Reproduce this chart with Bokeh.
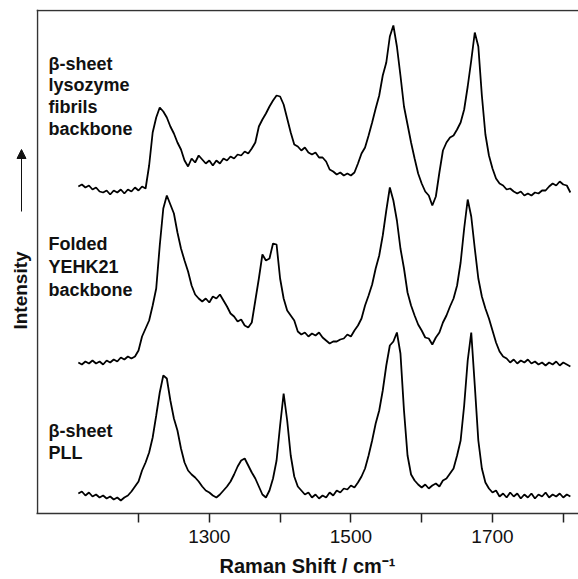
from bokeh.plotting import figure
from bokeh.layouts import row
from bokeh.models import Range1d, FixedTicker, Label, Arrow, NormalHead, ColumnDataSource, Span
from bokeh.embed import file_html
from bokeh.resources import INLINE

# Raman shift sampling (cm^-1)
wavenumber = [
    1115, 1120, 1125, 1130, 1135, 1140, 1145, 1150, 1155, 1160,
    1165, 1170, 1175, 1180, 1185, 1190, 1195, 1200, 1205, 1210,
    1215, 1220, 1225, 1230, 1235, 1240, 1245, 1250, 1255, 1260,
    1265, 1270, 1275, 1280, 1285, 1290, 1295, 1300, 1305, 1310,
    1315, 1320, 1325, 1330, 1335, 1340, 1345, 1350, 1355, 1360,
    1365, 1370, 1375, 1380, 1385, 1390, 1395, 1400, 1405, 1410,
    1415, 1420, 1425, 1430, 1435, 1440, 1445, 1450, 1455, 1460,
    1465, 1470, 1475, 1480, 1485, 1490, 1495, 1500, 1505, 1510,
    1515, 1520, 1525, 1530, 1535, 1540, 1545, 1550, 1555, 1560,
    1565, 1570, 1575, 1580, 1585, 1590, 1595, 1600, 1605, 1610,
    1615, 1620, 1625, 1630, 1635, 1640, 1645, 1650, 1655, 1660,
    1665, 1670, 1675, 1680, 1685, 1690, 1695, 1700, 1705, 1710,
    1715, 1720, 1725, 1730, 1735, 1740, 1745, 1750, 1755, 1760,
    1765, 1770, 1775, 1780, 1785, 1790, 1795, 1800, 1805, 1810,
]

# Offset intensities (arbitrary units), one trace per sample
lysozyme_fibrils = [
    327, 329, 326, 328, 324, 326, 322, 321, 323, 319,
    323, 321, 324, 320, 324, 322, 326, 323, 327, 325,
    348, 381, 396, 406, 402, 396, 387, 380, 371, 364,
    353, 347, 355, 351, 358, 354, 350, 353, 348, 353,
    350, 355, 353, 357, 355, 359, 358, 362, 360, 365,
    371, 387, 394, 400, 407, 413, 418, 417, 409, 395,
    381, 369, 367, 363, 366, 361, 359, 361, 356, 356,
    352, 344, 342, 339, 341, 338, 340, 338, 341, 350,
    360, 366, 378, 391, 405, 418, 438, 451, 477, 488,
    467, 438, 407, 389, 371, 355, 340, 330, 322, 318,
    308, 317, 341, 363, 371, 376, 378, 384, 391, 404,
    427, 453, 481, 467, 418, 379, 358, 345, 335, 330,
    328, 324, 325, 322, 320, 322, 318, 320, 318, 321,
    320, 323, 323, 327, 330, 328, 332, 329, 328, 321,
]

yehk21 = [
    151, 149, 152, 150, 153, 150, 152, 149, 153, 151,
    154, 152, 156, 154, 157, 155, 157, 163, 177, 185,
    193, 208, 225, 268, 305, 318, 309, 300, 281, 265,
    253, 242, 228, 219, 215, 212, 215, 211, 217, 215,
    219, 213, 207, 200, 197, 192, 194, 188, 186, 191,
    213, 235, 259, 253, 255, 270, 269, 235, 215, 203,
    198, 193, 182, 179, 181, 177, 180, 178, 181, 176,
    173, 170, 172, 172, 174, 175, 179, 177, 183, 188,
    195, 208, 218, 229, 245, 258, 278, 303, 326, 313,
    293, 265, 245, 221, 208, 198, 189, 183, 176, 175,
    169, 176, 181, 191, 198, 207, 215, 228, 251, 285,
    314, 297, 265, 235, 217, 205, 195, 183, 171, 162,
    157, 155, 151, 154, 150, 153, 151, 154, 150, 152,
    149, 151, 148, 151, 149, 152, 148, 151, 149, 147,
]

pll = [
    20, 22, 18, 21, 17, 19, 16, 18, 15, 17,
    14, 16, 13, 16, 18, 22, 27, 32, 43, 51,
    61, 76, 98, 121, 138, 135, 113, 95, 83, 65,
    51, 43, 39, 36, 32, 27, 23, 21, 18, 16,
    19, 23, 27, 32, 39, 47, 53, 55, 48, 41,
    35, 27, 19, 16, 23, 35, 53, 88, 120, 93,
    58, 37, 27, 23, 19, 21, 16, 19, 15, 18,
    16, 21, 18, 23, 21, 25, 24, 28, 26, 31,
    37, 45, 58, 73, 90, 103, 123, 148, 168, 172,
    181, 160, 103, 58, 39, 33, 29, 26, 29, 25,
    28, 30, 27, 33, 35, 40, 45, 58, 73, 108,
    153, 181, 128, 73, 45, 31, 25, 21, 23, 17,
    20, 16, 21, 17, 20, 15, 19, 16, 20, 15,
    19, 17, 21, 16, 19, 17, 20, 16, 19, 17,
]

tick_values = [1200, 1300, 1400, 1500, 1600, 1700, 1800]
tick_labels = {1200: "", 1300: "1300", 1400: "", 1500: "1500", 1600: "", 1700: "1700", 1800: ""}

FONT = "Liberation Sans"
INK = "#111111"

# Plot box limits
X_LEFT, X_RIGHT = 1057.3, 1821.5
Y_TOP = 503

# ---- narrow strip on the left carrying the rotated intensity label ----
# its vertical range matches the spectra panel, so positions share one scale
side = figure(
    width=36, height=579,
    x_range=Range1d(0, 36), y_range=Range1d(0, Y_TOP + 1),
    x_axis_location=None, y_axis_location=None,
    output_backend="svg", toolbar_location=None,
    min_border_left=0, min_border_right=0,
    min_border_top=9, min_border_bottom=66,
)
side.outline_line_color = None
side.grid.visible = False
side.add_layout(Label(
    x=20, y=223, angle=1.5707963,
    text="Intensity", text_font=FONT, text_font_style="bold", text_font_size="19px",
    text_color=INK, text_align="center", text_baseline="middle",
))
side.add_layout(Arrow(
    x_start=21, y_start=302, x_end=21, y_end=364,
    line_color=INK, line_width=1,
    end=NormalHead(size=9, fill_color=INK, line_color=INK),
))

# ---- main spectra panel ----
p = figure(
    width=542, height=579,
    x_range=Range1d(X_LEFT - 1.4, X_RIGHT),
    y_range=Range1d(0, Y_TOP + 1),
    y_axis_location=None,
    output_backend="svg", toolbar_location=None,
    min_border_left=0, min_border_right=0,
    min_border_top=9, min_border_bottom=66,
)
p.background_fill_color = "white"
p.border_fill_color = "white"
p.outline_line_color = None
p.grid.visible = False

# left and top edges of the box
p.add_layout(Span(location=X_LEFT, dimension="height", line_color="#333333", line_width=1.5))
p.add_layout(Span(location=Y_TOP, dimension="width", line_color="#333333", line_width=1.5))

ax = p.xaxis[0]
ax.ticker = FixedTicker(ticks=tick_values)
ax.major_label_overrides = tick_labels
ax.minor_tick_line_color = None
ax.major_tick_in = 0
ax.major_tick_out = 9
ax.major_tick_line_width = 1.5
ax.major_tick_line_color = "#222222"
ax.axis_line_width = 1.5
ax.axis_line_color = "#333333"
ax.major_label_text_font = FONT
ax.major_label_text_font_size = "19px"
ax.major_label_text_color = INK
ax.major_label_standoff = 7
ax.axis_label = "Raman Shift / cm\u207b\u00b9"
ax.axis_label_text_font = FONT
ax.axis_label_text_font_style = "bold"
ax.axis_label_text_font_size = "20px"
ax.axis_label_text_color = INK
ax.axis_label_standoff = 9

for series in (lysozyme_fibrils, yehk21, pll):
    src = ColumnDataSource(dict(x=wavenumber, y=series))
    p.line("x", "y", source=src, line_color="#000000", line_width=1.8)

# Sample names, stacked lines beside each trace
def add_block(lines, top_y, spacing):
    for i, t in enumerate(lines):
        p.add_layout(Label(
            x=12, y=top_y - i * spacing, x_units="screen", y_units="screen",
            text=t, text_font=FONT, text_font_style="bold", text_font_size="18px",
            text_color=INK, text_align="left", text_baseline="middle",
        ))

add_block(["\u03b2-sheet", "lysozyme", "fibrils", "backbone"], 450, 21.7)
add_block(["Folded", "YEHK21", "backbone"], 270, 23)
add_block(["\u03b2-sheet", "PLL"], 83, 22)

open("out.html", "w").write(file_html(row(side, p), INLINE))
